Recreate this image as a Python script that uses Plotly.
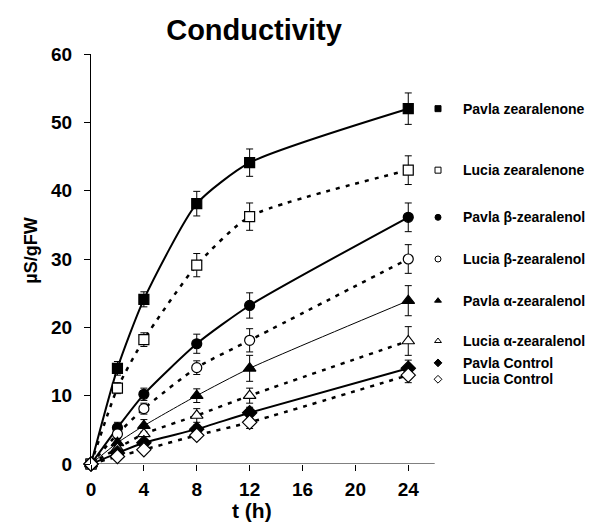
import plotly.graph_objects as go

# ---- data ----
t_hours = [0, 2, 4, 8, 12, 24]
series_names = [
    "Pavla zearalenone", "Lucia zearalenone",
    "Pavla β-zearalenol", "Lucia β-zearalenol",
    "Pavla α-zearalenol", "Lucia α-zearalenol",
    "Pavla Control", "Lucia Control",
]
pavla_zea = [0, 14.0, 24.1, 38.1, 44.1, 52.0]
pavla_zea_err = [0, 1.0, 1.1, 1.8, 2.0, 2.3]
lucia_zea = [0, 11.1, 18.2, 29.1, 36.2, 43.0]
lucia_zea_err = [0, 0.8, 1.0, 1.7, 2.0, 2.1]
pavla_beta = [0, 5.3, 10.2, 17.6, 23.2, 36.1]
pavla_beta_err = [0, 0.8, 0.9, 1.4, 1.85, 2.1]
lucia_beta = [0, 4.4, 8.1, 14.1, 18.1, 30.0]
lucia_beta_err = [0, 0.7, 0.8, 1.0, 1.7, 2.1]
pavla_alpha = [0, 3.1, 5.6, 10.0, 14.0, 23.9]
pavla_alpha_err = [0, 0.6, 0.9, 1.0, 1.9, 2.2]
lucia_alpha = [0, 2.3, 4.4, 7.1, 10.0, 18.0]
lucia_alpha_err = [0, 0.5, 0.8, 1.0, 1.1, 2.1]
pavla_ctrl = [0, 1.6, 3.1, 5.1, 7.5, 14.0]
pavla_ctrl_err = [0, 0.4, 0.5, 0.6, 0.8, 1.2]
lucia_ctrl = [0, 1.1, 2.1, 4.2, 6.1, 13.0]
lucia_ctrl_err = [0, 0.4, 0.5, 0.6, 0.9, 1.1]
x_ticks = [0, 4, 8, 12, 16, 20, 24]
y_ticks = [0, 10, 20, 30, 40, 50, 60]

values = [pavla_zea, lucia_zea, pavla_beta, lucia_beta,
          pavla_alpha, lucia_alpha, pavla_ctrl, lucia_ctrl]
errors = [pavla_zea_err, lucia_zea_err, pavla_beta_err, lucia_beta_err,
          pavla_alpha_err, lucia_alpha_err, pavla_ctrl_err, lucia_ctrl_err]

# ---- styles / layout constants ----
FONT = "Liberation Sans, Arial, sans-serif"
styles = [
    dict(symbol="square", fill="black", size=10, width=2.0, dash="solid"),
    dict(symbol="square", fill="white", size=10, width=2.5, dash="4px,6px"),
    dict(symbol="circle", fill="black", size=10, width=2.0, dash="solid"),
    dict(symbol="circle", fill="white", size=10, width=2.5, dash="4px,6px"),
    dict(symbol="triangle-up", fill="black", size=11, width=1.0, dash="solid"),
    dict(symbol="triangle-up", fill="white", size=11, width=2.5, dash="4px,6px"),
    dict(symbol="diamond", fill="black", size=11, width=2.0, dash="solid"),
    dict(symbol="diamond", fill="white", size=11, width=2.5, dash="4px,6px"),
]
legend_nudge = [0, 0, 0, 0, 0, 0, 0.8, -0.6]
AXIS_END = 26          # x-axis line ends here (h)
X_VIEW_MAX = 37.9      # plot area extends right to host the legend column
LEGEND_MARK_X = 26.25
LEGEND_TEXT_X = 28.0

fig = go.Figure()
for name, ys, es, st in zip(series_names, values, errors, styles):
    fig.add_trace(go.Scatter(
        x=t_hours, y=ys, mode="lines+markers", name=name,
        line=dict(color="black", width=st["width"], dash=st["dash"],
                  shape="spline", smoothing=0.6),
        marker=dict(symbol=st["symbol"], size=st["size"], color=st["fill"],
                    line=dict(color="black", width=1.2)),
        error_y=dict(type="data", array=es, visible=True, color="black",
                     thickness=1, width=3.5),
        cliponaxis=False, showlegend=False,
    ))

# pseudo-legend placed at each series' final value
for name, ys, st, nd in zip(series_names, values, styles, legend_nudge):
    yv = ys[-1] + nd
    fig.add_trace(go.Scatter(
        x=[LEGEND_MARK_X], y=[yv], mode="markers",
        marker=dict(symbol=st["symbol"], size=6, color=st["fill"],
                    line=dict(color="black", width=1)),
        cliponaxis=False, showlegend=False, hoverinfo="skip",
    ))
    fig.add_annotation(
        x=LEGEND_TEXT_X, xref="x", y=yv, yref="y", text=name,
        showarrow=False, xanchor="left", yanchor="middle",
        font=dict(family=FONT, size=14, color="black", weight="bold"),
    )

# x-axis baseline (stops short of the legend column)
fig.add_shape(type="line", x0=0, x1=AXIS_END, y0=0, y1=0, xref="x", yref="y",
              line=dict(color="black", width=1), layer="below")

fig.add_annotation(
    x=-0.12, xref="paper", y=0.52, yref="paper", text="µS/gFW",
    textangle=-90, showarrow=False, xanchor="center", yanchor="middle",
    font=dict(family=FONT, size=18, color="black", weight="bold"),
)
fig.add_annotation(
    x=12.2, xref="x", y=-0.113, yref="paper", text="t (h)",
    showarrow=False, xanchor="center", yanchor="middle",
    font=dict(family=FONT, size=21, color="black", weight="bold"),
)

fig.update_layout(
    width=594, height=525,
    margin=dict(l=83, r=10, t=46, b=69),
    paper_bgcolor="white", plot_bgcolor="white",
    title=dict(text="Conductivity", x=246 / 594, xref="container",
               xanchor="center", y=1 - 22 / 525, yref="container",
               yanchor="middle",
               font=dict(family=FONT, size=29, color="black", weight="bold")),
    font=dict(family=FONT, color="black"),
)
fig.update_xaxes(
    range=[0, X_VIEW_MAX], tickvals=x_ticks, ticktext=[str(v) for v in x_ticks],
    showgrid=False, zeroline=False, showline=False,
    ticks="outside", ticklen=6, tickcolor="black",
    tickfont=dict(family=FONT, size=19, color="black", weight="bold"),
    ticklabelstandoff=2,
)
fig.update_yaxes(
    range=[0, 60], tickvals=y_ticks, ticktext=[str(v) for v in y_ticks],
    showgrid=False, zeroline=False, showline=True, linecolor="black",
    linewidth=1, ticks="outside", ticklen=6, tickcolor="black",
    tickfont=dict(family=FONT, size=19, color="black", weight="bold"),
    ticklabelstandoff=8,
)

fig.write_html("out.html")
